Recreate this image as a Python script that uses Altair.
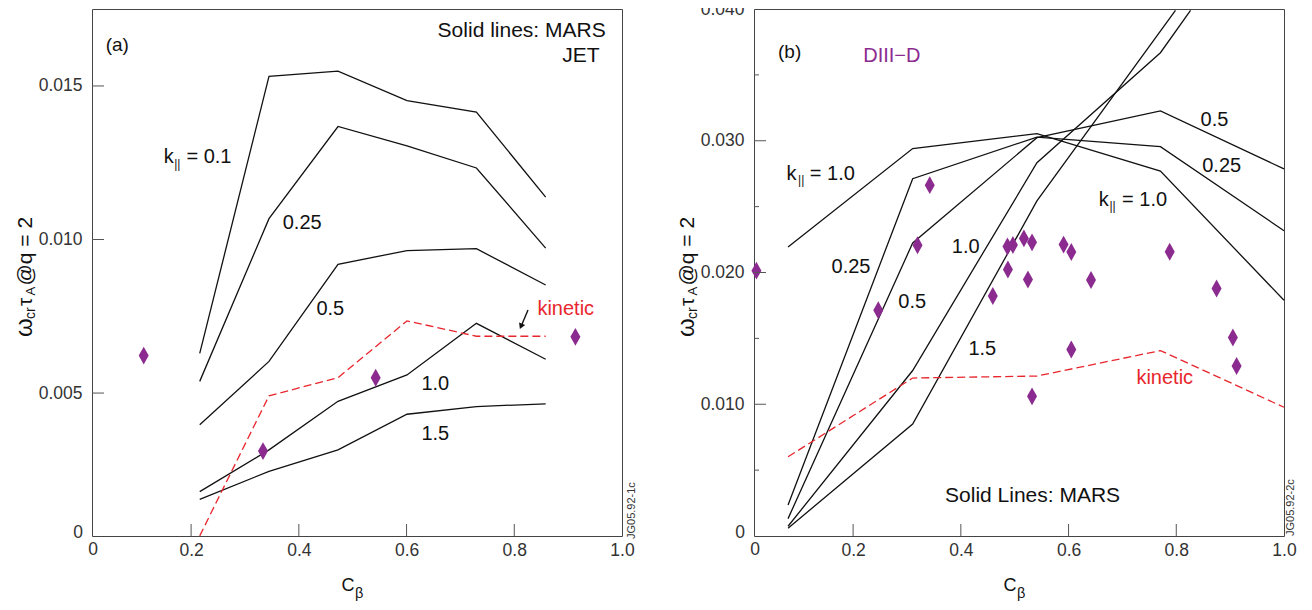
import altair as alt
import pandas as pd

FONT = "Liberation Sans"
PW, PH = 530, 527
INK = "#111111"
RED = "#e8262d"
PURPLE = "#8b2b8f"
TICK = "#555555"
LABEL = "#333333"

# ---------------- panel (a): JET ----------------
a_cbeta = [0.216, 0.3446, 0.4727, 0.6008, 0.7297, 0.8583]
a_k010 = [0.00629, 0.01531, 0.01548, 0.01452, 0.01415, 0.01138]
a_k025 = [0.00538, 0.01068, 0.01368, 0.01305, 0.01233, 0.00972]
a_k050 = [0.00397, 0.00603, 0.00919, 0.00964, 0.00970, 0.00852]
a_k100 = [0.00179, 0.00315, 0.00473, 0.00559, 0.00727, 0.00610]
a_k150 = [0.00154, 0.00245, 0.00315, 0.00431, 0.00456, 0.00465]
a_kinetic = [0.00035, 0.00491, 0.00550, 0.00735, 0.00685, 0.00685]
a_exp_cbeta = [0.1120, 0.3335, 0.5427, 0.9135]
a_exp_omega = [0.00622, 0.00311, 0.00550, 0.00683]

a_num_text = ["0.25", "0.5", "1.0", "1.5"]
a_num_x = [0.3701, 0.4326, 0.6276, 0.6276]
a_num_y = [0.010358, 0.007542, 0.005083, 0.003471]
a_k_x = [0.1491]
a_k_y = [0.012491]
a_bars_x = [0.1686]
a_bars_y = [0.012330]
a_keq_text = ["= 0.1"]
a_keq_x = [0.1913]
a_kin_x = [0.8429]
a_kin_y = [0.007542]
a_arrow = {"x": [0.8255], "y": [0.007704], "x2": [0.8125], "y2": [0.00717]}
a_head = {"x": [0.8125], "y": [0.00717]}
a_note_text = ["Solid lines: MARS", "JET"]
a_note_x = [0.9697, 0.9586]
a_note_y = [0.016578, 0.015764]
a_tag = {"label": ["(a)"], "x": [0.0414], "y": [0.016151]}

# ---------------- panel (b): DIII-D ----------------
b_cbeta = [0.0792, 0.3106, 0.5413, 0.7706, 1.0]
b_k100_upper = [0.02194, 0.02941, 0.03054, 0.02770, 0.01789]
b_k025 = [0.00235, 0.02712, 0.03028, 0.02955, 0.02317]
b_k050 = [0.00132, 0.02224, 0.03023, 0.03226, 0.02786]
b_k100_cbeta = [0.0792, 0.3106, 0.5413, 0.7706, 0.8265]
b_k100 = [0.00074, 0.01256, 0.02833, 0.03668, 0.0399]
b_k150_cbeta = [0.0792, 0.3106, 0.5413, 0.7985]
b_k150 = [0.00059, 0.00850, 0.02543, 0.0399]
b_kinetic = [0.00601, 0.01199, 0.01214, 0.01407, 0.00977]
b_exp_cbeta = [0.0205, 0.2467, 0.3196, 0.3423, 0.4594, 0.4874, 0.4866, 0.4967,
               0.5171, 0.5322, 0.5246, 0.5908, 0.6051, 0.6417, 0.6051, 0.5322,
               0.7878, 0.8748, 0.9051, 0.9120]
b_exp_omega = [0.02014, 0.01713, 0.02207, 0.02663, 0.01822, 0.02023, 0.02197, 0.02209,
               0.02259, 0.02229, 0.01947, 0.02212, 0.02156, 0.01943, 0.01416, 0.01060,
               0.02157, 0.01879, 0.01507, 0.01290]

b_num_text = ["0.25", "0.5", "1.0", "1.5", "0.5", "0.25"]
b_num_x = [0.1600, 0.2839, 0.3832, 0.4141, 0.8451, 0.8482]
b_num_y = [0.01996, 0.01731, 0.02148, 0.01376, 0.0311, 0.02763]
b_k_x = [0.0763, 0.6559]
b_k_y = [0.02704, 0.02507]
b_bars_x = [0.0978, 0.6758]
b_bars_y = [0.02670, 0.02472]
b_keq_text = ["= 1.0", "= 1.0"]
b_keq_x = [0.1196, 0.6994]
b_kin_x = [0.7260]
b_kin_y = [0.01157]
b_note = {"label": ["Solid Lines: MARS"], "x": [0.3707], "y": [0.00257]}
b_tag = {"label": ["(b)"], "x": [0.0606], "y": [0.03626]}
b_machine = {"label": ["DIII\u2212D"], "x": [0.2188], "y": [0.03594]}

x_ticks = [0.2, 0.4, 0.6, 0.8, 1.0]
a_yticks = [0.005, 0.010, 0.015]
b_yticks = [0.010, 0.020, 0.030, 0.040]
b_yminor = [0.005, 0.015, 0.025, 0.035]


def x_enc(field="x"):
    return alt.X(
        f"{field}:Q",
        scale=alt.Scale(domain=[0.016, 1.0], nice=False, zero=False),
        axis=alt.Axis(values=x_ticks, format=".1f", ticks=False, domain=False, grid=False,
                      title=None, labelFont=FONT, labelFontSize=17.5, labelColor=LABEL,
                      labelPadding=5, labelFlush=False, labelOverlap=False),
    )


def make_y(domain, values):
    def y_enc(field="y"):
        return alt.Y(
            f"{field}:Q",
            scale=alt.Scale(domain=domain, nice=False, zero=False),
            axis=alt.Axis(values=values, format=".3f", ticks=False, domain=False, grid=False,
                          title=None, labelFont=FONT, labelFontSize=17.5, labelColor=LABEL,
                          labelPadding=10, labelFlush=False, labelOverlap=False),
        )
    return y_enc


def series_df(items):
    rows = []
    for name, xs, ys in items:
        for i, (xv, yv) in enumerate(zip(xs, ys)):
            rows.append({"series": name, "ord": i, "x": xv, "y": yv})
    return pd.DataFrame(rows)


def px_text(txt, x, y, size, angle=0, align="left", baseline="alphabetic", color=INK):
    return alt.Chart(pd.DataFrame({"t": [txt]})).mark_text(
        font=FONT, fontSize=size, angle=angle, align=align, baseline=baseline, color=color
    ).encode(x=alt.value(x), y=alt.value(y), text="t:N")


def data_text(df, y_enc, size, align="left", color=INK):
    return alt.Chart(pd.DataFrame(df)).mark_text(
        font=FONT, fontSize=size, align=align, baseline="alphabetic", color=color
    ).encode(x=x_enc(), y=y_enc(), text="label:N")


def axis_titles(jg_text, jg_x, jg_y):
    tb = -60   # baseline of the rotated y title, px left of the plot
    return [
        px_text("\u03c9", tb, 328, 24, angle=270),
        px_text("cr", tb + 3, 310, 14, angle=270),
        px_text("\u03c4", tb, 297, 21, angle=270),
        px_text("A", tb + 3, 286.5, 13, angle=270),
        px_text("@q = 2", tb, 276.5, 21, angle=270),
        px_text("C", 249.5, 582, 18),
        px_text("\u03b2", 263, 589, 14.5),
        px_text("0", -9, 524, 17.5, align="right", baseline="middle", color=LABEL),
        px_text("0", 1, PH + 5, 17.5, align="center", baseline="top", color=LABEL),
        px_text(jg_text, jg_x, jg_y, 11, angle=270, color="#333333"),
    ]


def ticks(y_enc, major, minor):
    layers = [
        alt.Chart(pd.DataFrame({"x": x_ticks[:-1]})).mark_rule(color=TICK, strokeWidth=1).encode(
            x=x_enc(), y=alt.value(PH), y2=alt.value(PH - 12)),
        alt.Chart(pd.DataFrame({"y": major})).mark_rule(color=TICK, strokeWidth=1).encode(
            y=y_enc(), x=alt.value(0), x2=alt.value(12)),
    ]
    if minor:
        layers.append(
            alt.Chart(pd.DataFrame({"y": minor})).mark_rule(color=TICK, strokeWidth=1).encode(
                y=y_enc(), x=alt.value(0), x2=alt.value(5)))
    return layers


DIAMOND = "M0,-1L0.56,0L0,1L-0.56,0Z"


def common_layers(y_enc, lines, kin_x, kin_y, exp_x, exp_y):
    line_layer = alt.Chart(series_df(lines)).mark_line(color=INK, strokeWidth=1.3).encode(
        x=x_enc(), y=y_enc(), detail="series:N", order="ord:Q")
    kin_layer = alt.Chart(pd.DataFrame({"x": kin_x, "y": kin_y})).mark_line(
        color=RED, strokeWidth=1.3, strokeDash=[8, 4]).encode(x=x_enc(), y=y_enc())
    exp_layer = alt.Chart(pd.DataFrame({"x": exp_x, "y": exp_y})).mark_point(
        shape=DIAMOND, size=320, filled=True, color=PURPLE, opacity=1).encode(x=x_enc(), y=y_enc())
    return [line_layer, kin_layer, exp_layer]


def k_labels(y_enc, kx, ky, bx, by, eqtext, eqx):
    return [
        data_text({"label": ["k"] * len(kx), "x": kx, "y": ky}, y_enc, 20),
        data_text({"label": ["||"] * len(bx), "x": bx, "y": by}, y_enc, 12),
        data_text({"label": eqtext, "x": eqx, "y": ky}, y_enc, 20),
    ]


# ---- panel (a)
ya = make_y([0.000345, 0.017506], a_yticks)
a_layers = common_layers(
    ya,
    [("k0.1", a_cbeta, a_k010), ("k0.25", a_cbeta, a_k025), ("k0.5", a_cbeta, a_k050),
     ("k1.0", a_cbeta, a_k100), ("k1.5", a_cbeta, a_k150)],
    a_cbeta, a_kinetic, a_exp_cbeta, a_exp_omega)
a_layers += ticks(ya, a_yticks, None)
a_layers += [
    alt.Chart(pd.DataFrame(a_arrow)).mark_rule(color=INK, strokeWidth=1.4).encode(
        x=x_enc(), y=ya(), x2="x2:Q", y2="y2:Q"),
    alt.Chart(pd.DataFrame(a_head)).mark_point(
        shape="triangle-down", angle=23, size=45, filled=True, color=INK, opacity=1).encode(
        x=x_enc(), y=ya()),
    data_text({"label": a_num_text, "x": a_num_x, "y": a_num_y}, ya, 20),
    data_text({"label": ["kinetic"], "x": a_kin_x, "y": a_kin_y}, ya, 20, color=RED),
    data_text({"label": a_note_text, "x": a_note_x, "y": a_note_y}, ya, 21, align="right"),
    data_text(a_tag, ya, 19),
]
a_layers += k_labels(ya, a_k_x, a_k_y, a_bars_x, a_bars_y, a_keq_text, a_keq_x)
a_layers += axis_titles("JG05.92-1c", 542.5, 530)
panel_a = alt.layer(*a_layers).properties(width=PW, height=PH)

# ---- panel (b)
yb = make_y([0.0, 0.04], b_yticks)
b_layers = common_layers(
    yb,
    [("k1.0 upper", b_cbeta, b_k100_upper), ("k0.25", b_cbeta, b_k025), ("k0.5", b_cbeta, b_k050),
     ("k1.0", b_k100_cbeta, b_k100), ("k1.5", b_k150_cbeta, b_k150)],
    b_cbeta, b_kinetic, b_exp_cbeta, b_exp_omega)
b_layers += ticks(yb, b_yticks[:-1], b_yminor)
b_layers += [
    data_text({"label": b_num_text, "x": b_num_x, "y": b_num_y}, yb, 20),
    data_text({"label": ["kinetic"], "x": b_kin_x, "y": b_kin_y}, yb, 20, color=RED),
    data_text(b_note, yb, 21),
    data_text(b_tag, yb, 19),
    data_text(b_machine, yb, 20, color=PURPLE),
]
b_layers += k_labels(yb, b_k_x, b_k_y, b_bars_x, b_bars_y, b_keq_text, b_keq_x)
b_layers += axis_titles("JG05.92-2c", 539.5, 527)
panel_b = alt.layer(*b_layers).properties(width=PW, height=PH)

chart = alt.hconcat(panel_a, panel_b, spacing=132, bounds="flush").properties(
    padding={"left": 4, "top": -9, "right": 0, "bottom": 0}
).configure_view(stroke="#444444", strokeWidth=1)

chart.save("out.html", embed_options={"renderer": "svg", "actions": False})
